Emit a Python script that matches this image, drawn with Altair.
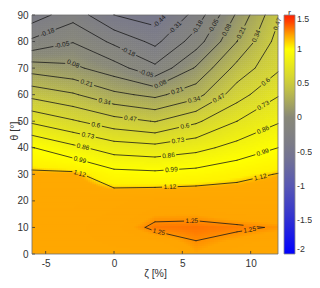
import numpy as np
import pandas as pd
import altair as alt

# ---------------- data ----------------
zeta_grid = [-6, -3, 0, 3, 6, 9, 12]
theta_grid = [0, 10, 20, 30, 40, 50, 60, 70, 80, 90]
# rows: theta, columns: zeta
r_grid = [
    [1.200, 1.200, 1.200, 1.200, 1.240, 1.220, 1.200],
    [1.200, 1.200, 1.225, 1.258, 1.260, 1.256, 1.247],
    [1.180, 1.180, 1.200, 1.220, 1.220, 1.200, 1.200],
    [1.144, 1.146, 1.036, 1.023, 1.042, 1.085, 1.125],
    [0.996, 0.892, 0.798, 0.773, 0.820, 0.906, 0.990],
    [0.706, 0.614, 0.520, 0.464, 0.578, 0.730, 0.847],
    [0.429, 0.355, 0.239, 0.179, 0.290, 0.544, 0.720],
    [0.151, 0.107, 0.008, -0.151, 0.095, 0.383, 0.580],
    [-0.153, -0.057, -0.209, -0.344, -0.115, 0.210, 0.520],
    [-0.380, -0.230, -0.440, -0.505, -0.260, 0.100, 0.450],
]
levels = [-0.44, -0.31, -0.18, -0.05, 0.08, 0.21, 0.34, 0.47,
          0.60, 0.73, 0.86, 0.99, 1.12, 1.25]
# (level, zeta, theta) approximate places of the inline contour labels
label_spots = [
    (-0.44, 3.5, 86.7),
    (-0.31, 4.8, 83.6),
    (-0.18, -4.9, 83.7), (-0.18, 1.0, 75.7), (-0.18, 6.5, 84.2),
    (-0.05, -3.8, 78.7), (-0.05, 2.3, 67.0), (-0.05, 7.4, 85.5),
    (0.08, -3.0, 71.5), (0.08, 3.5, 62.9), (0.08, 8.2, 84.5),
    (0.21, -2.0, 64.3), (0.21, 4.7, 60.4), (0.21, 9.2, 83.6),
    (0.34, -0.66, 58.0), (0.34, 5.9, 57.2), (0.34, 10.3, 82.3),
    (0.47, 1.2, 51.1), (0.47, 7.7, 58.4), (0.47, 11.8, 86.9),
    (0.60, -1.3, 49.2), (0.60, 5.2, 47.9), (0.60, 11.0, 65.5),
    (0.73, -1.9, 44.8), (0.73, 4.7, 42.0), (0.73, 10.9, 56.1),
    (0.86, -2.25, 40.8), (0.86, 4.0, 36.6), (0.86, 10.9, 46.7),
    (0.99, -2.5, 35.4), (0.99, 4.2, 31.6), (0.99, 10.9, 37.9),
    (1.12, -2.5, 30.4), (1.12, 4.1, 24.7), (1.12, 10.7, 29.1),
    (1.25, 5.7, 11.8), (1.25, 3.24, 7.5), (1.25, 9.95, 8.4),
]
x_ticks = [-5, 0, 5, 10]
y_ticks = [0, 10, 20, 30, 40, 50, 60, 70, 80, 90]
cbar_ticks = [-2, -1.5, -1, -0.5, 0, 0.5, 1, 1.5]
cmap_values = [-2, -1.5, -1, -0.5, 0, 0.5, 1.0, 1.1, 1.13, 1.24, 1.26, 1.35, 1.5]
cmap_colors = ['#0000ff', '#3030d2', '#5858b4', '#78788c', '#888878',
               '#cdcd3c', '#ffff00', '#fff200', '#ffaa00', '#ffa500',
               '#ff7300', '#ff5500', '#ff1e00']

# ---------------- layout ----------------
W, H = 246, 239
ZMIN, ZMAX, TMIN, TMAX = -6, 12, 0, 90
SX = W / (ZMAX - ZMIN)
SY = H / (TMAX - TMIN)
FS_LAB = 6.5
INK = '#1a1a1a'
AX = '#333333'
FONT = 'Liberation Sans'

zg = np.array(zeta_grid, float)
tg = np.array(theta_grid, float)
Z = np.array(r_grid, float)


def bilinear(z, t):
    i = np.clip(np.searchsorted(zg, z, side='right') - 1, 0, len(zg) - 2)
    j = np.clip(np.searchsorted(tg, t, side='right') - 1, 0, len(tg) - 2)
    fz = (z - zg[i]) / (zg[i + 1] - zg[i])
    ft = (t - tg[j]) / (tg[j + 1] - tg[j])
    return (Z[j, i] * (1 - fz) * (1 - ft) + Z[j, i + 1] * fz * (1 - ft)
            + Z[j + 1, i] * (1 - fz) * ft + Z[j + 1, i + 1] * fz * ft)


# ---------------- smooth colour field (rendering of the grid) ----------------
NZ, NT = 123, 120
DZ = (ZMAX - ZMIN) / NZ
DT = (TMAX - TMIN) / NT
zc = ZMIN + (np.arange(NZ) + 0.5) * DZ
tc = TMIN + (np.arange(NT) + 0.5) * DT
ZZ, TT = np.meshgrid(zc, tc)
VV = bilinear(ZZ.ravel(), TT.ravel())
fill_df = pd.DataFrame({'z': np.round(ZZ.ravel() - DZ / 2, 4),
                        't': np.round(TT.ravel() - DT / 2, 4),
                        'v': np.round(VV, 4)})

# ---------------- contour segments (marching squares on the grid) ----------------
segs = []
for L in levels:
    for j in range(len(tg) - 1):
        for i in range(len(zg) - 1):
            v00, v10 = Z[j, i], Z[j, i + 1]
            v01, v11 = Z[j + 1, i], Z[j + 1, i + 1]
            p00, p10 = (zg[i], tg[j]), (zg[i + 1], tg[j])
            p01, p11 = (zg[i], tg[j + 1]), (zg[i + 1], tg[j + 1])

            def cross(a, b, pa, pb):
                f = (L - a) / (b - a)
                return (pa[0] + f * (pb[0] - pa[0]), pa[1] + f * (pb[1] - pa[1]))
            e = {}
            if (v00 > L) != (v10 > L):
                e['b'] = cross(v00, v10, p00, p10)
            if (v10 > L) != (v11 > L):
                e['r'] = cross(v10, v11, p10, p11)
            if (v01 > L) != (v11 > L):
                e['t'] = cross(v01, v11, p01, p11)
            if (v00 > L) != (v01 > L):
                e['l'] = cross(v00, v01, p00, p01)
            if len(e) == 2:
                a, b = list(e.values())
                segs.append((L, a, b))
            elif len(e) == 4:
                c = (v00 + v10 + v01 + v11) / 4
                pairs = [('b', 'r'), ('t', 'l')] if (c > L) == (v00 > L) else [('b', 'l'), ('r', 't')]
                for p, q in pairs:
                    segs.append((L, e[p], e[q]))


def to_px(p):
    return np.array([(p[0] - ZMIN) * SX, (TMAX - p[1]) * SY])


def text_width(s):
    w = 0
    for ch in s:
        w += 0.278 if ch == '.' else (0.333 if ch == '-' else 0.556)
    return w * FS_LAB


# place labels on the nearest contour piece
labels = []
for L, zl, tl in label_spots:
    P = to_px((zl, tl))
    best = None
    for (LL, a, b) in segs:
        if abs(LL - L) > 1e-9:
            continue
        A, B = to_px(a), to_px(b)
        d = B - A
        n2 = float(d @ d)
        if n2 < 1e-12:
            continue
        u = np.clip(float((P - A) @ d) / n2, 0, 1)
        Q = A + u * d
        dist = float(np.hypot(*(P - Q)))
        if best is None or dist < best[0]:
            best = (dist, Q, d)
    if best is None:
        continue
    _, Q, d = best
    ang = np.degrees(np.arctan2(d[1], d[0]))
    if ang > 90:
        ang -= 180
    if ang <= -90:
        ang += 180
    txt = f"{L:g}"
    labels.append({'z': ZMIN + Q[0] / SX, 't': TMAX - Q[1] / SY,
                   'ang': float(ang % 360), 'txt': txt, 'L': L,
                   'px': Q, 'rad': text_width(txt) / 2 + 1.6})

# cut the lines where labels sit
rows = []
for (L, a, b) in segs:
    A, B = to_px(a), to_px(b)
    labs = [lb for lb in labels if abs(lb['L'] - L) < 1e-9]
    ts = np.linspace(0, 1, 81)
    pts = A[None, :] + ts[:, None] * (B - A)[None, :]
    keep = np.ones(len(ts), bool)
    for lb in labs:
        keep &= np.hypot(pts[:, 0] - lb['px'][0], pts[:, 1] - lb['px'][1]) > lb['rad']
    k = 0
    while k < len(ts):
        if keep[k]:
            s = k
            while k + 1 < len(ts) and keep[k + 1]:
                k += 1
            if k > s:
                p1 = pts[s]
                p2 = pts[k]
                rows.append({'z1': ZMIN + p1[0] / SX, 't1': TMAX - p1[1] / SY,
                             'z2': ZMIN + p2[0] / SX, 't2': TMAX - p2[1] / SY})
        k += 1
line_df = pd.DataFrame(rows)
lab_df = pd.DataFrame([{k: v for k, v in lb.items() if k in ('z', 't', 'ang', 'txt')}
                       for lb in labels])

# ---------------- chart ----------------
xs = alt.Scale(domain=[ZMIN, ZMAX], nice=False, zero=False)
ys = alt.Scale(domain=[TMIN, TMAX], nice=False, zero=False)
xaxis = alt.Axis(title='ζ [%]', values=x_ticks, ticks=False, grid=False, domain=False,
                 labelExpr="'' + datum.value", labelFontSize=10, labelColor=AX,
                 labelPadding=4, labelFlush=False, titleFontSize=10.5,
                 titleFontWeight='normal', titleColor=AX,
                 titleBaseline='alphabetic', titleY=22.5)
yaxis = alt.Axis(title='θ [°]', values=y_ticks, ticks=False, grid=False, domain=False,
                 labelFontSize=10, labelColor=AX, labelPadding=4, labelFlush=False,
                 titleFontSize=10.5, titleFontWeight='normal', titleColor=AX,
                 titleAngle=270, titleBaseline='middle', titleAlign='center',
                 titleX=-17.5, titleY=H / 2 - 4)

fill = alt.Chart(fill_df).mark_rect(clip=True).transform_calculate(
    z2=f"datum.z + {DZ * 1.25}", t2=f"datum.t + {DT * 1.25}"
).encode(
    x=alt.X('z:Q', scale=xs, axis=xaxis),
    x2='z2:Q',
    y=alt.Y('t:Q', scale=ys, axis=yaxis),
    y2='t2:Q',
    color=alt.Color('v:Q', scale=alt.Scale(domain=cmap_values, range=cmap_colors,
                                            interpolate='rgb',
                                            clamp=True, zero=False, nice=False),
                    legend=alt.Legend(title=None, orient='none', direction='vertical',
                                      legendX=W + 6, legendY=0,
                                      gradientLength=H, gradientThickness=11,
                                      gradientStrokeColor='#8a8a8a', gradientStrokeWidth=0.8,
                                      values=cbar_ticks, labelExpr="'' + datum.value",
                                      labelFontSize=8.8, labelColor=AX, labelOffset=2,
                                      labelBaseline='middle', labelOverlap=False))
)

lines = alt.Chart(line_df).mark_rule(color=INK, strokeWidth=0.8, strokeCap='round').encode(
    x=alt.X('z1:Q', scale=xs, axis=xaxis), x2='z2:Q',
    y=alt.Y('t1:Q', scale=ys, axis=yaxis), y2='t2:Q')

texts = alt.Chart(lab_df).mark_text(fontSize=FS_LAB, color=INK, font=FONT,
                                    align='center', baseline='middle').encode(
    x=alt.X('z:Q', scale=xs, axis=xaxis),
    y=alt.Y('t:Q', scale=ys, axis=yaxis),
    angle=alt.Angle('ang:Q', scale=None),
    text='txt:N')

xt = alt.Chart(pd.DataFrame({'z': x_ticks})).mark_rule(color=AX, strokeWidth=0.8).encode(
    x=alt.X('z:Q', scale=xs, axis=xaxis), y=alt.value(H - 3), y2=alt.value(H))
yt = alt.Chart(pd.DataFrame({'t': y_ticks})).mark_rule(color=AX, strokeWidth=0.8).encode(
    y=alt.Y('t:Q', scale=ys, axis=yaxis), x=alt.value(0), x2=alt.value(3))
frame = alt.Chart(pd.DataFrame({'a': [0]})).mark_rect(
    fillOpacity=0, stroke='#6e6e6e', strokeWidth=0.8).encode(
    x=alt.value(0), x2=alt.value(W), y=alt.value(0), y2=alt.value(H))
rtitle = alt.Chart(pd.DataFrame({'s': ['r']})).mark_text(
    fontSize=9, color=AX, font=FONT, align='center', baseline='alphabetic').encode(
    x=alt.value(W + 11.5), y=alt.value(1.2), text='s:N')

chart = alt.layer(fill, lines, texts, xt, yt, frame, rtitle).properties(
    width=W, height=H,
    padding={'left': 24, 'top': 7, 'right': 34, 'bottom': 26},
    autosize=alt.AutoSizeParams(type='none'),
).configure(font=FONT).configure_view(stroke=None)

chart.save("out.html", embed_options={"renderer": "svg", "actions": False})
